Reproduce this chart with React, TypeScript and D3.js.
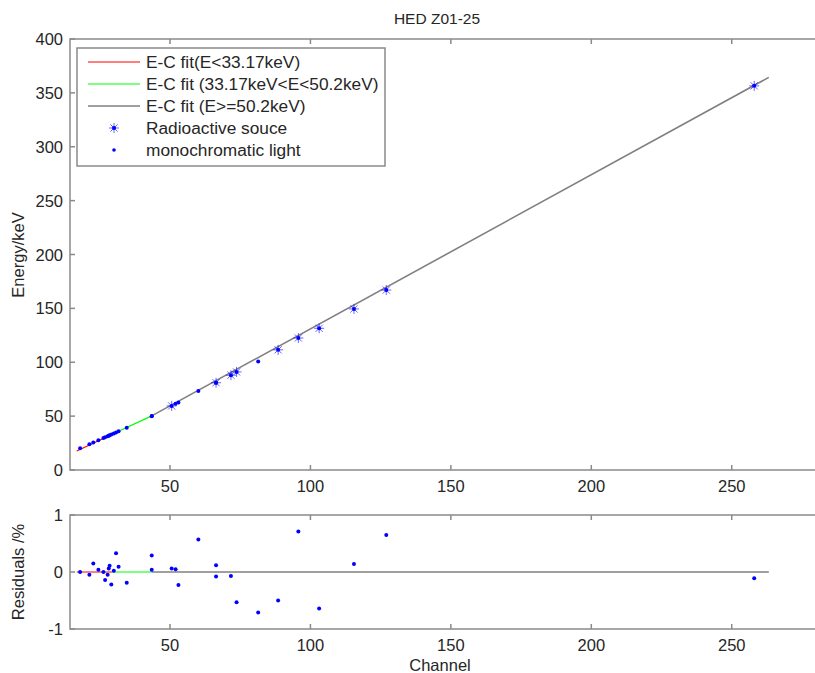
import React from "react";
import * as d3 from "d3";

// ---- data ----
const xTicks = [50, 100, 150, 200, 250];
const energyTicks = [0, 50, 100, 150, 200, 250, 300, 350, 400];
const residualTicks = [-1, 0, 1];

// fit segment knots: [channel, energy]
const fitLowChannels = [16.8, 29.4];
const fitLowEnergies = [17.6, 33.17];
const fitMidChannels = [29.4, 43.5];
const fitMidEnergies = [33.17, 50.2];
const fitHighChannels = [43.5, 263.2];
const fitHighEnergies = [50.2, 364.4];

// radioactive sources
const sourceChannels = [50.6, 66.4, 71.7, 73.7, 88.5, 95.7, 103.1, 115.5, 127.0, 258.0];
const sourceEnergies = [59.5, 81.0, 88.0, 91.0, 111.5, 122.5, 131.5, 149.5, 167.0, 356.5];
const sourceResiduals = [0.06, 0.12, -0.07, -0.53, -0.5, 0.71, -0.64, 0.14, 0.65, -0.11];

// monochromatic light
const lightChannels = [18.0, 21.3, 22.7, 24.5, 26.3, 26.9, 27.8, 28.2, 28.5, 29.1, 30.0, 30.8, 31.7, 34.6, 43.5, 43.5, 52.0, 53.0, 60.1, 66.4, 81.4];
const lightEnergies = [20.1, 23.9, 25.5, 27.6, 29.6, 30.3, 31.4, 31.8, 32.2, 32.9, 33.9, 34.8, 35.9, 39.3, 50.2, 50.0, 61.4, 62.6, 73.3, 80.9, 100.6];
const lightResiduals = [0.0, -0.05, 0.15, 0.04, 0.0, -0.14, -0.05, 0.06, 0.11, -0.22, 0.02, 0.33, 0.09, -0.19, 0.29, 0.04, 0.05, -0.23, 0.57, -0.08, -0.71];

const legendLabels = [
  "E-C fit(E<33.17keV)",
  "E-C fit (33.17keV<E<50.2keV)",
  "E-C fit (E>=50.2keV)",
  "Radioactive souce",
  "monochromatic light",
];

const W = 815;
const H = 673;
const FONT = "'Liberation Sans', Arial, sans-serif";
const AXIS = "#8a8a8a";
const TEXT = "#262626";
const BLUE = "#0000ff";
const RED = "#ff0000";
const GREEN = "#00ff00";
const GRAY = "#808080";
const FS = 16.5;

const left = 70;
const right = 816;
const mainTop = 39;
const mainBottom = 470;
const resTop = 515;
const resBottom = 629;

const x = d3.scaleLinear().domain([14.4, 280]).range([left, right]);
const yE = d3.scaleLinear().domain([0, 400]).range([mainBottom, mainTop]);
const yR = d3.scaleLinear().domain([-1, 1]).range([resBottom, resTop]);

function starPath(cx: number, cy: number, r: number) {
  const d = r * 0.72;
  return `M${cx - r},${cy}L${cx + r},${cy}M${cx},${cy - r}L${cx},${cy + r}` +
    `M${cx - d},${cy - d}L${cx + d},${cy + d}M${cx - d},${cy + d}L${cx + d},${cy - d}`;
}

function Axes({ y, ticks, top, bottom }: { y: d3.ScaleLinear<number, number>; ticks: number[]; top: number; bottom: number }) {
  const tl = 5;
  return (
    <g>
      <rect x={left} y={top} width={right - left} height={bottom - top} fill="none" stroke={AXIS} strokeWidth={1.5} />
      {xTicks.map((t) => (
        <g key={"x" + t}>
          <line x1={x(t)} x2={x(t)} y1={bottom} y2={bottom - tl} stroke={AXIS} strokeWidth={1.5} />
          <line x1={x(t)} x2={x(t)} y1={top} y2={top + tl} stroke={AXIS} strokeWidth={1.5} />
          <text x={x(t)} y={bottom + 22} textAnchor="middle" fontSize={FS} fill={TEXT} fontFamily={FONT}>{t}</text>
        </g>
      ))}
      {ticks.map((t) => (
        <g key={"y" + t}>
          <line x1={left} x2={left + tl} y1={y(t)} y2={y(t)} stroke={AXIS} strokeWidth={1.5} />
          <text x={left - 7} y={y(t) + 6} textAnchor="end" fontSize={FS} fill={TEXT} fontFamily={FONT}>{t}</text>
        </g>
      ))}
    </g>
  );
}

export default function App() {
  const lineE = d3.line<[number, number]>().x((d) => x(d[0])).y((d) => yE(d[1]));
  const zip = (a: number[], b: number[]) => a.map((v, i) => [v, b[i]] as [number, number]);

  const low = zip(fitLowChannels, fitLowEnergies);
  const mid = zip(fitMidChannels, fitMidEnergies);
  const high = zip(fitHighChannels, fitHighEnergies);

  const lineR = (chs: number[]) => `M${x(chs[0])},${yR(0)}L${x(chs[chs.length - 1])},${yR(0)}`;

  const legX = 77, legY = 48, legW = 308, legH = 118;
  const rowY = (i: number) => legY + 14 + i * 22;

  return (
    <svg width={W} height={H} style={{ position: "fixed", left: 0, top: 0, background: "#fff" }} fontFamily={FONT}>
      <rect width={W} height={H} fill="#fff" />
      <defs>
        <clipPath id="cm"><rect x={left} y={mainTop} width={right - left} height={mainBottom - mainTop} /></clipPath>
        <clipPath id="cr"><rect x={left} y={resTop} width={right - left} height={resBottom - resTop} /></clipPath>
      </defs>

      <text x={437} y={24} textAnchor="middle" fontSize={15.5} fill={TEXT}>HED Z01-25</text>

      {/* main panel */}
      <Axes y={yE} ticks={energyTicks} top={mainTop} bottom={mainBottom} />
      <g clipPath="url(#cm)">
        <path d={lineE(high) || ""} stroke={GRAY} strokeWidth={1.6} fill="none" />
        <path d={lineE(mid) || ""} stroke={GREEN} strokeWidth={1.2} fill="none" />
        <path d={lineE(low) || ""} stroke={RED} strokeWidth={1.2} fill="none" />
        {sourceChannels.map((c, i) => (
          <path key={"s" + i} d={starPath(x(c), yE(sourceEnergies[i]), 5)} stroke={BLUE} strokeWidth={1} strokeOpacity={0.6} fill="none" />
        ))}
        {sourceChannels.map((c, i) => (
          <circle key={"sd" + i} cx={x(c)} cy={yE(sourceEnergies[i])} r={2} fill={BLUE} />
        ))}
        {lightChannels.map((c, i) => (
          <circle key={"l" + i} cx={x(c)} cy={yE(lightEnergies[i])} r={2} fill={BLUE} />
        ))}
      </g>

      {/* legend */}
      <rect x={legX} y={legY} width={legW} height={legH} fill="#fff" stroke={AXIS} strokeWidth={1.5} />
      {[RED, GREEN, GRAY].map((c, i) => (
        <line key={"ll" + i} x1={88} x2={140} y1={rowY(i)} y2={rowY(i)} stroke={c} strokeWidth={i === 2 ? 1.6 : 1.2} />
      ))}
      <path d={starPath(114, rowY(3), 5)} stroke={BLUE} strokeWidth={1} strokeOpacity={0.6} fill="none" />
      <circle cx={114} cy={rowY(3)} r={2} fill={BLUE} />
      <circle cx={114} cy={rowY(4)} r={1.8} fill={BLUE} />
      {legendLabels.map((t, i) => (
        <text key={"lt" + i} x={146} y={rowY(i) + 6} fontSize={17.3} fill={TEXT}>{t}</text>
      ))}

      <text transform={`translate(24,255) rotate(-90)`} textAnchor="middle" fontSize={FS} fill={TEXT}>Energy/keV</text>

      {/* residual panel */}
      <Axes y={yR} ticks={residualTicks} top={resTop} bottom={resBottom} />
      <g clipPath="url(#cr)">
        <path d={lineR(fitHighChannels)} stroke={GRAY} strokeWidth={1.6} fill="none" />
        <path d={lineR(fitMidChannels)} stroke={GREEN} strokeWidth={1.2} fill="none" />
        <path d={lineR(fitLowChannels)} stroke={RED} strokeWidth={1.2} fill="none" />
        {sourceChannels.map((c, i) => (
          <circle key={"rs" + i} cx={x(c)} cy={yR(sourceResiduals[i])} r={2} fill={BLUE} />
        ))}
        {lightChannels.map((c, i) => (
          <circle key={"rl" + i} cx={x(c)} cy={yR(lightResiduals[i])} r={2} fill={BLUE} />
        ))}
      </g>
      <text transform={`translate(24,572) rotate(-90)`} textAnchor="middle" fontSize={FS} fill={TEXT}>Residuals /%</text>
      <text x={440} y={671} textAnchor="middle" fontSize={FS} fill={TEXT}>Channel</text>
    </svg>
  );
}
